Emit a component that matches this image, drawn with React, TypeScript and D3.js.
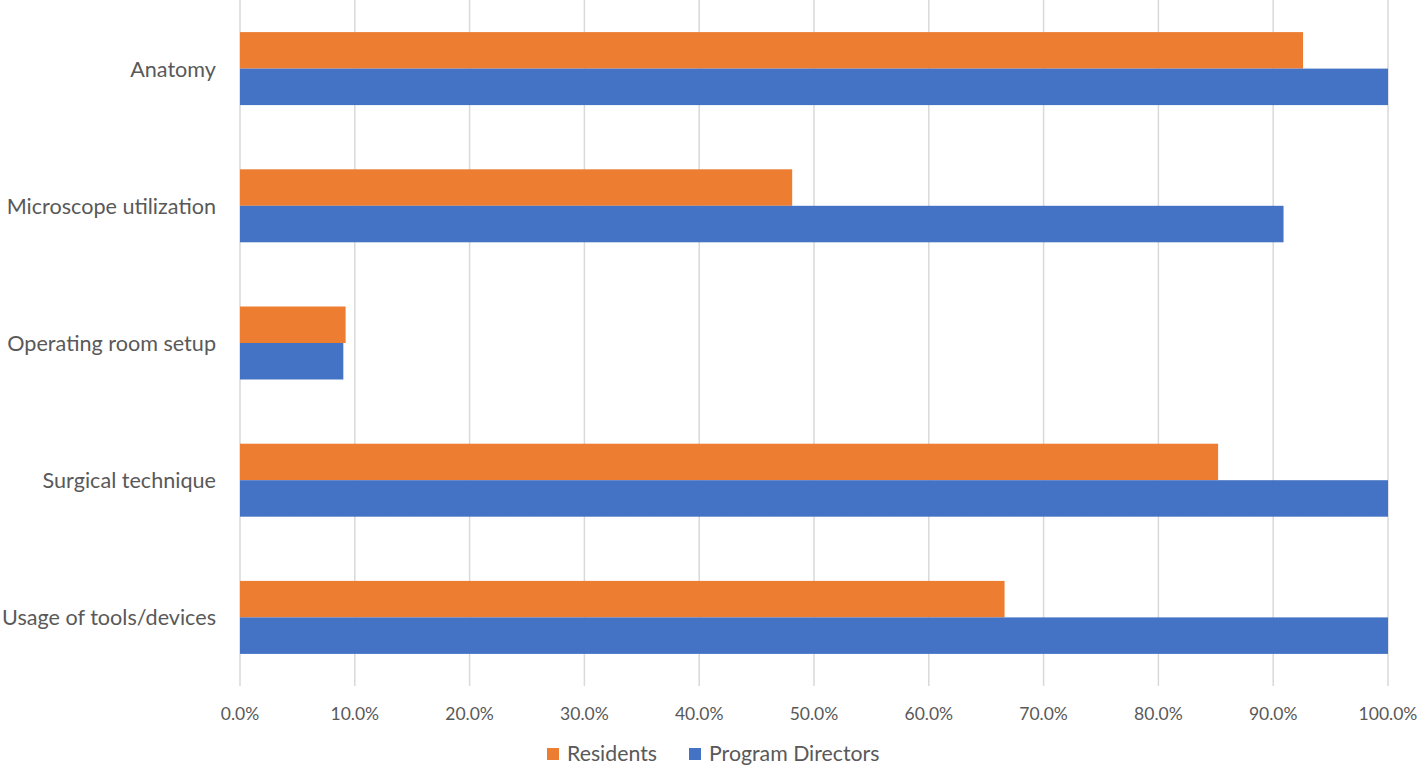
import React from "react";
import * as d3 from "d3";

const categories = ["Anatomy", "Microscope utilization", "Operating room setup", "Surgical technique", "Usage of tools/devices"];
const residents = [92.6, 48.1, 9.2, 85.2, 66.6];
const programDirectors = [100, 90.9, 9.0, 100, 100];
const seriesNames = ["Residents", "Program Directors"];
const seriesColors = ["#ED7D31", "#4472C4"];
const xTicks = [0, 10, 20, 30, 40, 50, 60, 70, 80, 90, 100];

const W = 1418;
const H = 766;
const left = 240;
const right = 1388;
const top = 0;
const bottom = 686;
const FONT = "Lato, 'Open Sans', sans-serif";
const TEXT = "#595959";

export default function App() {
  const x = d3.scaleLinear().domain([0, 100]).range([left, right]);
  const y = d3.scaleBand<string>().domain(categories).range([top, bottom]).paddingInner(0.468).paddingOuter(0.234);
  const sub = d3.scaleBand<string>().domain(seriesNames).range([0, y.bandwidth()]);
  const data = [residents, programDirectors];

  return (
    <div style={{ position: "fixed", left: 0, top: 0 }}>
      <svg width={W} height={H} style={{ display: "block", background: "#fff" }}>
        <defs>
          <pattern id="dots" width="6" height="4" patternUnits="userSpaceOnUse">
            <rect width="6" height="4" fill="#4472C4" />
            <rect x="1" y="1" width="1" height="1" fill="#6a6a7a" opacity="0.45" />
          </pattern>
        </defs>
        {xTicks.map((t) => (
          <line key={t} x1={x(t)} x2={x(t)} y1={top} y2={bottom} stroke="#d9d9d9" strokeWidth={1.5} />
        ))}
        {categories.map((c, i) =>
          seriesNames.map((s, j) => (
            <rect
              key={c + s}
              x={x(0)}
              y={(y(c) as number) + (sub(s) as number)}
              width={x(data[j][i]) - x(0)}
              height={sub.bandwidth()}
              fill={j === 1 ? "url(#dots)" : seriesColors[j]}
            />
          ))
        )}
        {categories.map((c) => (
          <text
            key={c}
            x={216}
            y={(y(c) as number) + y.bandwidth() / 2}
            textAnchor="end"
            dominantBaseline="central"
            fontFamily={FONT}
            fontSize={21.6}
            fill={TEXT}
          >
            {c}
          </text>
        ))}
        {xTicks.map((t) => (
          <text key={t} x={x(t)} y={720} textAnchor="middle" fontFamily={FONT} fontSize={17.5} fill={TEXT}>
            {t.toFixed(1) + "%"}
          </text>
        ))}
        {seriesNames.map((s, j) => {
          const lx = [547, 689][j];
          return (
            <g key={s}>
              <rect x={lx} y={748} width={12} height={12} fill={seriesColors[j]} />
              <text x={lx + 20} y={761} fontFamily={FONT} fontSize={21.3} fill={TEXT}>
                {s}
              </text>
            </g>
          );
        })}
      </svg>
    </div>
  );
}
